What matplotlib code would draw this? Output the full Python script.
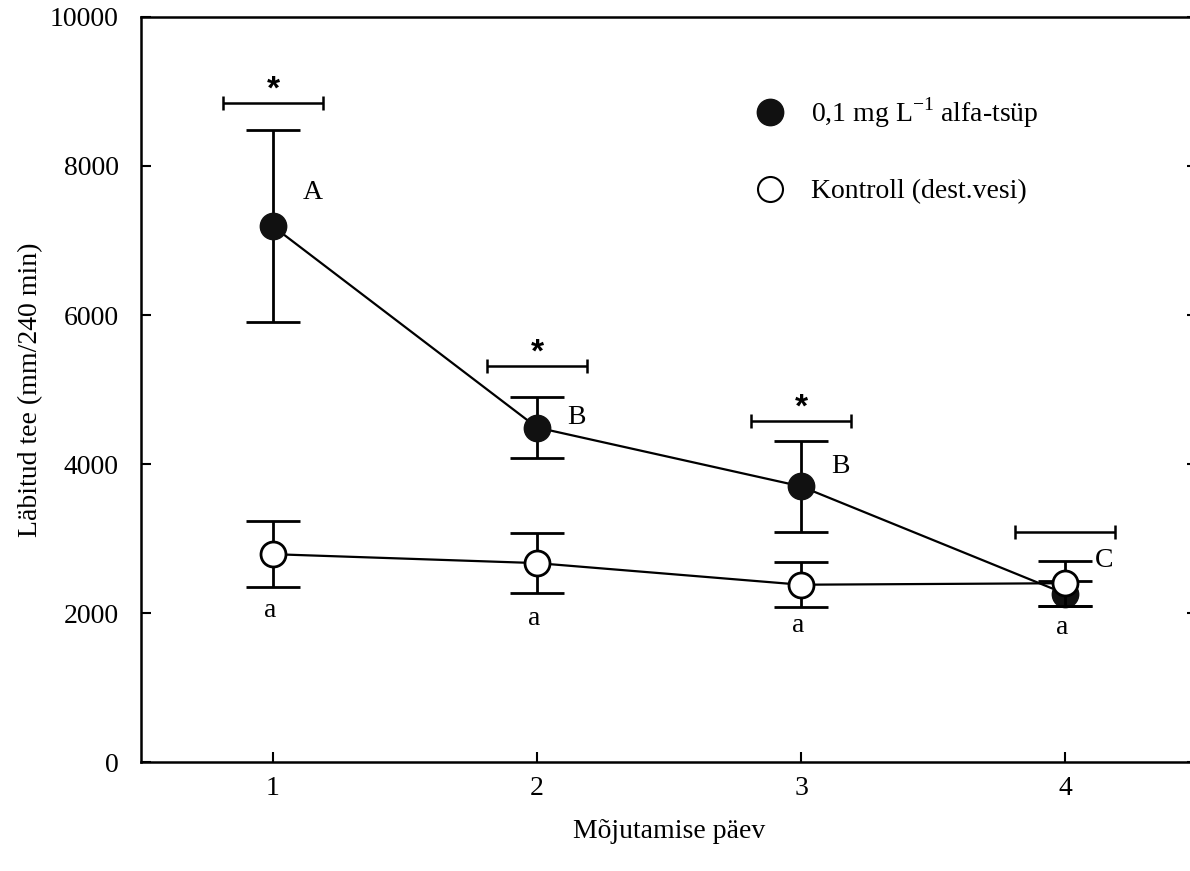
import numpy as np
import matplotlib.pyplot as plt
from matplotlib.lines import Line2D

plt.rcParams['font.family'] = ['Liberation Serif', 'DejaVu Serif']
plt.rcParams['mathtext.fontset'] = 'custom'
plt.rcParams['mathtext.rm'] = 'Liberation Serif'

days = [1, 2, 3, 4]
# 0,1 mg/L alfa-tsüp
treat = [7190, 4490, 3700, 2260]
treat_err = [1290, 410, 610, 170]
# kontroll
ctrl = [2790, 2670, 2380, 2400]
ctrl_err = [440, 400, 300, 300]
# significance brackets
sig_y = [8850, 5320, 4580, 3090]
sig_star = ['*', '*', '*', '']
treat_letters = ['A', 'B', 'B', 'C']
treat_let_y = [7640, 4620, 3970, 2710]
ctrl_letters = ['a', 'a', 'a', 'a']
ctrl_let_y = [2030, 1930, 1830, 1810]

fig = plt.figure(figsize=(11.9, 8.71), dpi=100)
ax = fig.add_axes([0.1185, 0.1251, 0.8874, 0.8554])

ax.errorbar(days, treat, yerr=treat_err, color='black', marker='o', ms=19,
            mfc='#111111', mec='#111111', lw=1.6, elinewidth=2, capsize=19.5,
            capthick=2, zorder=3)
ax.errorbar(days, ctrl, yerr=ctrl_err, color='black', marker='o', ms=18,
            mfc='white', mec='black', mew=2, lw=1.6, elinewidth=2, capsize=19.5,
            capthick=2, zorder=4)

ax.errorbar(days, sig_y, xerr=0.19, fmt='none', ecolor='black', elinewidth=1.8,
            capsize=5, capthick=1.8)
for d, y, s in zip(days, sig_y, sig_star):
    ax.text(d, y - 40, s, ha='center', va='bottom', fontsize=24,
            family='Liberation Sans', fontweight='bold')

for d, y, s in zip(days, treat_let_y, treat_letters):
    ax.text(d + 0.15, y, s, ha='center', va='center', fontsize=20)
for d, y, s in zip(days, ctrl_let_y, ctrl_letters):
    ax.text(d - 0.01, y, s, ha='center', va='center', fontsize=20)

ax.set_xlim(0.5, 4.5)
ax.set_ylim(0, 10000)
ax.set_xticks(days)
ax.set_yticks(np.arange(0, 10001, 2000))
ax.tick_params(direction='in', length=7, width=1.5, labelsize=20,
               right=True, top=False)
ax.tick_params(axis='y', pad=16)
ax.tick_params(axis='x', pad=10)
for sp in ax.spines.values():
    sp.set_linewidth(1.8)

ax.set_xlabel('Mõjutamise päev', fontsize=20, labelpad=13)
ax.set_ylabel('Läbitud tee (mm/240 min)', fontsize=20, labelpad=5)

handles = [
    Line2D([], [], ls='none', marker='o', ms=19, mfc='#111111', mec='#111111'),
    Line2D([], [], ls='none', marker='o', ms=18, mfc='white', mec='black', mew=1.5),
]
labels = [r'0,1 mg L$^{\mathrm{-1}}$ alfa-tsüp', 'Kontroll (dest.vesi)']
ax.legend(handles, labels, loc='upper left', bbox_to_anchor=(0.546, 0.928),
          frameon=False, fontsize=20, labelspacing=1.75, handletextpad=0.45)

fig.savefig('out.png', dpi=100)
